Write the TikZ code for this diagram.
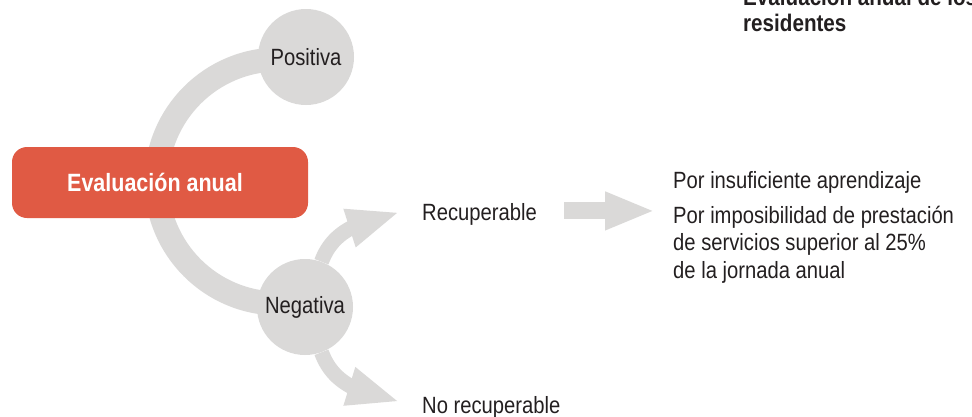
\documentclass[tikz,border=0pt]{standalone}
\usepackage{fontspec}
\setmainfont{Liberation Sans}[FakeStretch=0.86]
\usetikzlibrary{arrows.meta,bending,backgrounds,calc}
\definecolor{evred}{HTML}{E05A44}
\definecolor{evgray}{HTML}{DAD9D8}
\definecolor{evtext}{HTML}{231F20}
\begin{document}
\begin{tikzpicture}[x=1pt,y=1pt,
  font=\fontsize{23.5}{27.5}\selectfont, text=evtext,
  band/.style={draw=evgray, line width=24pt},
  bubble/.style={circle, fill=evgray, minimum size=96pt, inner sep=0pt},
  evalbox/.style={rectangle, rounded corners=15pt, fill=evred, text=white,
    minimum width=296pt, minimum height=71pt, inner sep=0pt,
    font=\fontsize{25}{30}\selectfont\bfseries},
  label/.style={anchor=base west, inner sep=0pt},
  titletext/.style={anchor=base west, inner sep=0pt, font=\fontsize{24}{26}\selectfont\bfseries},
  fatarrow/.style={draw=evgray, line width=15pt, -{Triangle[length=53pt,width=36pt]}},
  straightarrow/.style={draw=evgray, line width=17pt, -{Triangle[length=50pt,width=35pt]}}]
\useasboundingbox (0,0) rectangle (972,-416);
\clip (0,0) rectangle (972,-416);

% title (cut by the top and right edges)
\node[titletext] (t1) at (743,-5) {Evaluación anual de los};
\node[titletext] (t2) at (743,-31) {residentes};

% main nodes
\node[evalbox] (eval) at (160,-182.5) {\hspace*{-10pt}Evaluación anual};
\node[bubble] (pos) at (306,-57) {Positiva};
\node[bubble] (neg) at (305,-307) {Negativa};

% outcome texts
\node[label] (rec) at (422,-220) {Recuperable};
\node[label] (norec) at (422,-413) {No recuperable};
\node[label] (r1) at (673,-188) {Por insuficiente aprendizaje};
\node[label] (r2) at (673,-223) {\vtop{\hbox{Por imposibilidad de prestación}\hbox{de servicios superior al 25\%}\hbox{de la jornada anual}}};

\begin{scope}[on background layer]
  \draw[band] ([xshift=-27.5pt,yshift=-2.5pt]pos.center) arc[start angle=90,end angle=270,radius=122pt];
  \draw[fatarrow] (neg) to[out=70,in=194] ($(rec.west)+(-22,2)$);
  \draw[fatarrow] (neg) to[out=-70,in=168] ($(norec.west)+(-22,5)$);
\end{scope}
\draw[straightarrow] ($(rec.east)+(27,3)$) -- ($(rec.east -| r1.west)+(-18,3)$);
\end{tikzpicture}
\end{document}
